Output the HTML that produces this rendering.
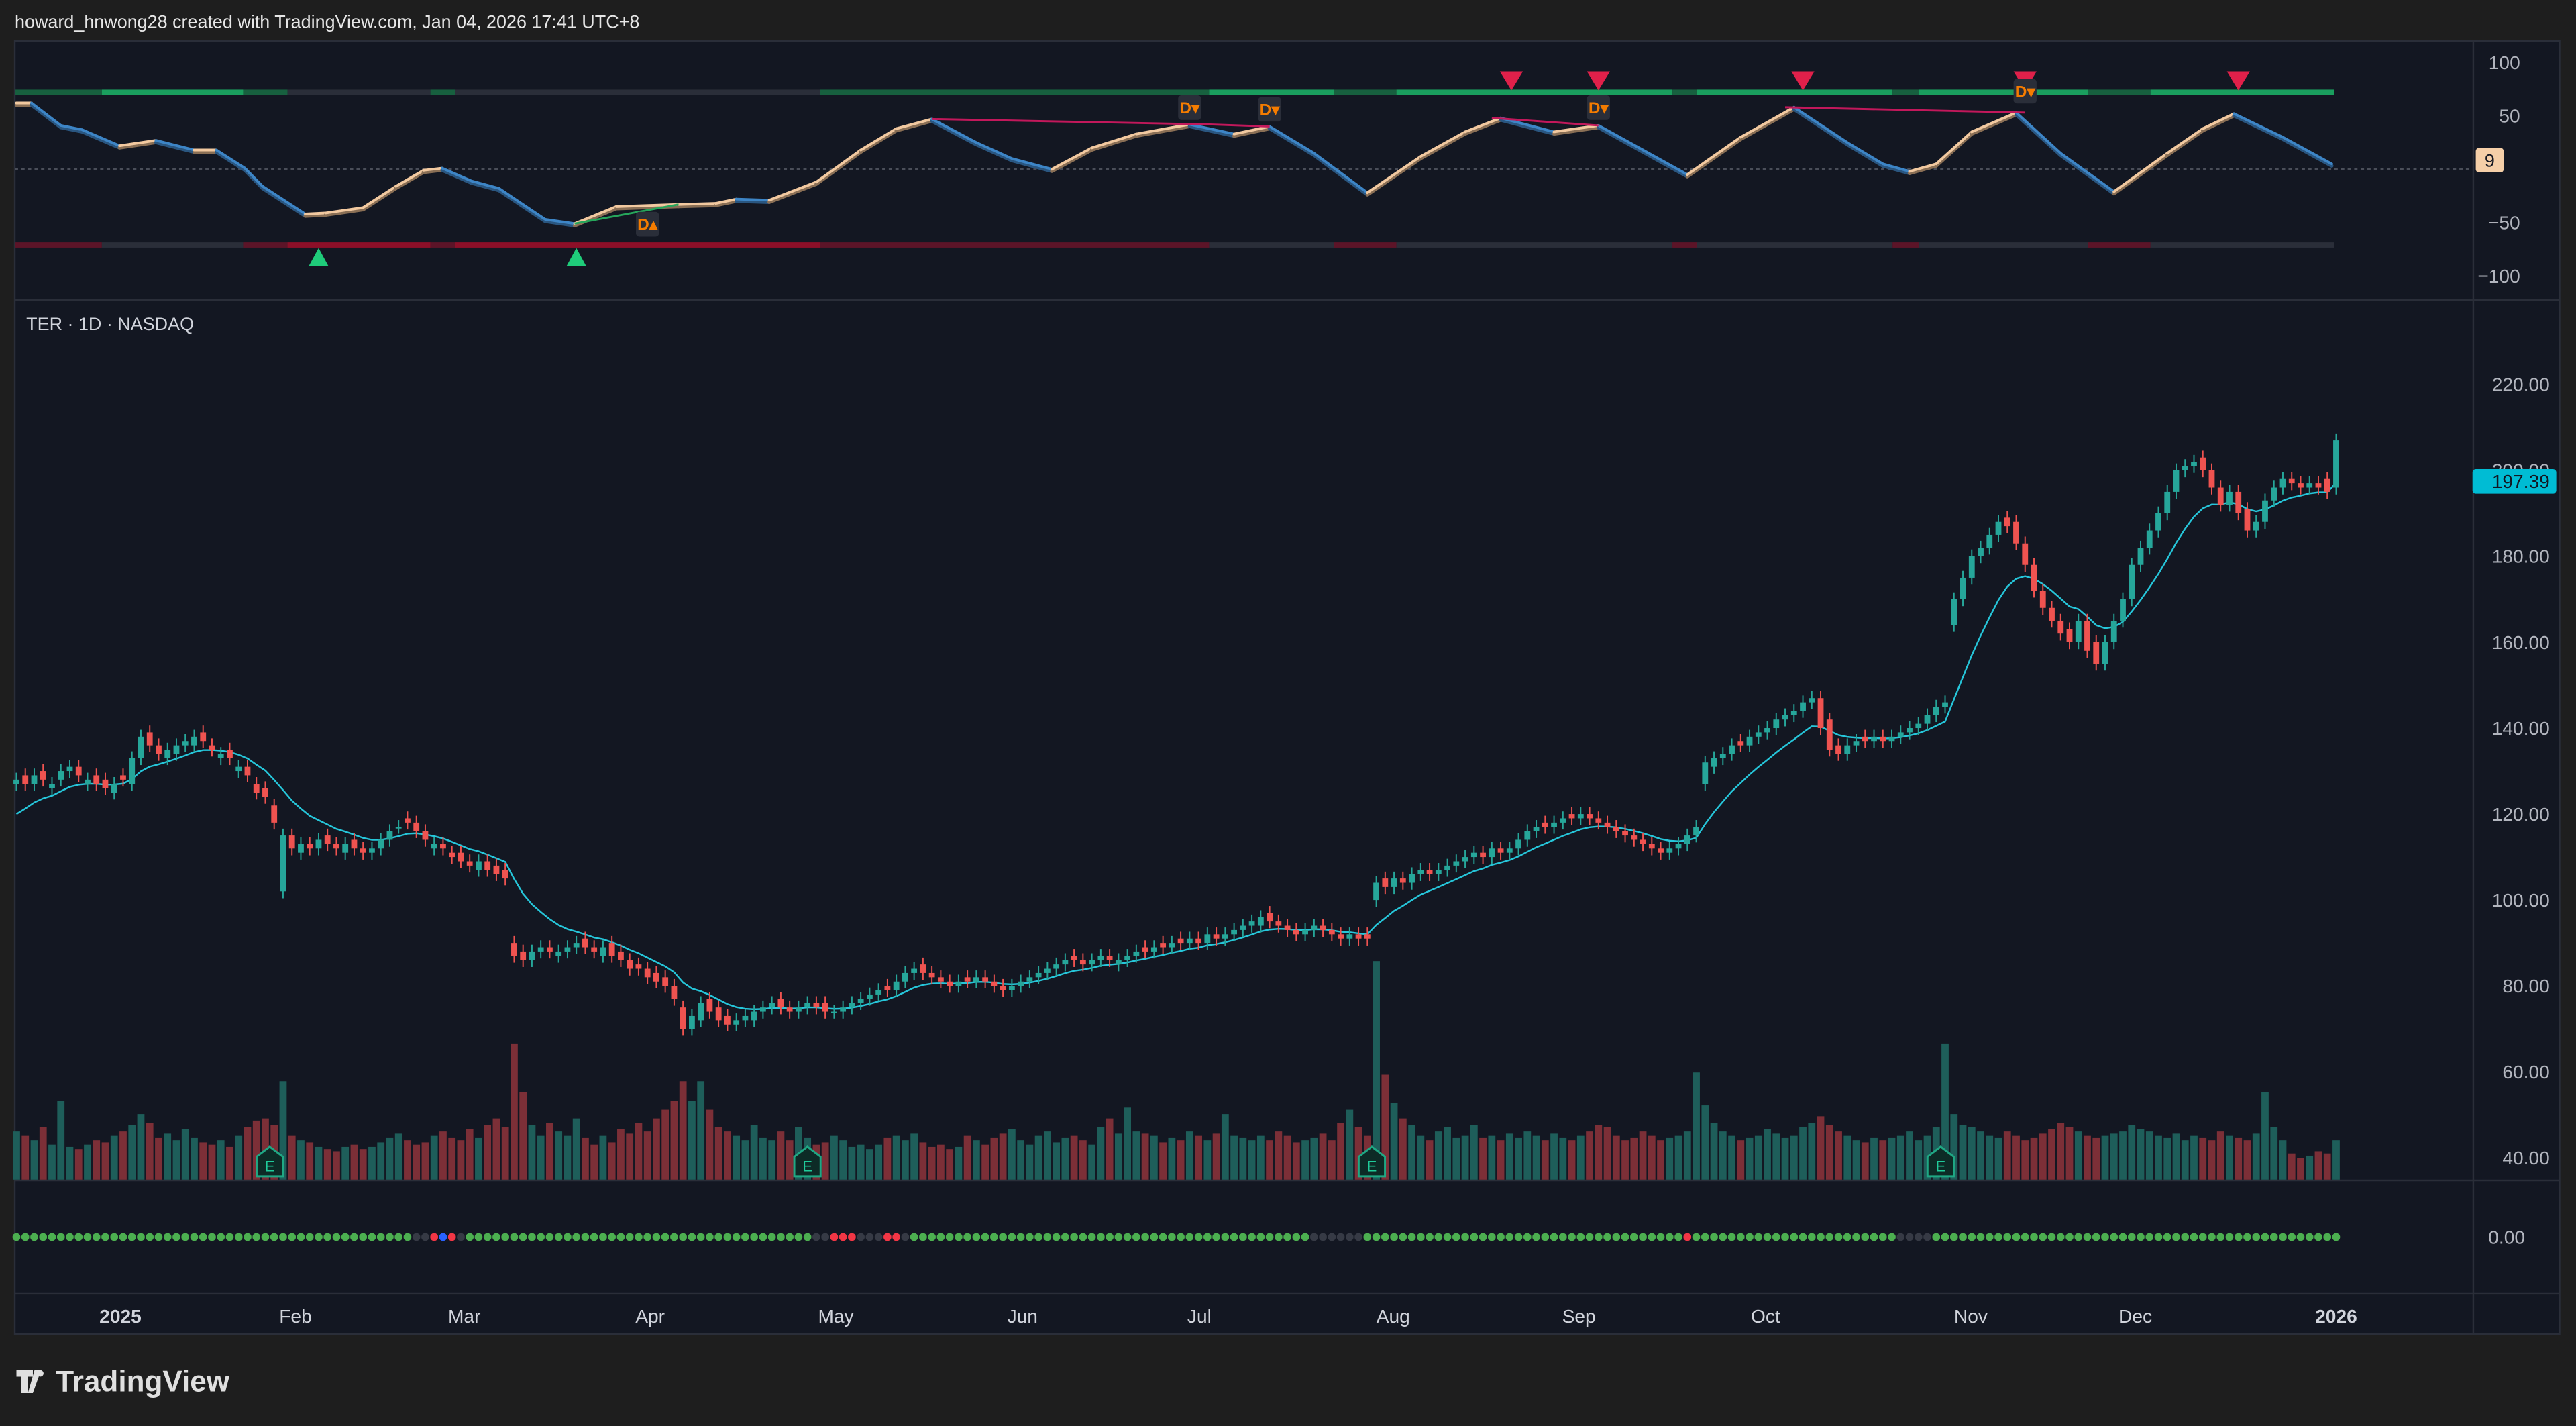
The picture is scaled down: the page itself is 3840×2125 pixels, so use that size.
<!DOCTYPE html>
<html><head><meta charset="utf-8"><style>
html,body{margin:0;padding:0;background:#1e1e1e;}
svg{display:block;font-family:"Liberation Sans",sans-serif;}
</style></head><body>
<svg id="c" width="3840" height="2125" viewBox="0 0 1568 868" preserveAspectRatio="none" xmlns="http://www.w3.org/2000/svg">
<rect x="0" y="0" width="1568" height="868" fill="#1e1e1e"/>
<text x="9" y="17" font-size="11" fill="#e6e6e6">howard_hnwong28 created with TradingView.com, Jan 04, 2026 17:41 UTC+8</text>
<rect x="9" y="25" width="1549" height="787" fill="#131722" stroke="#2a2e39" stroke-width="1"/>
<line x1="9" y1="182.5" x2="1558" y2="182.5" stroke="#2a2e39"/>
<line x1="9" y1="718.5" x2="1558" y2="718.5" stroke="#2a2e39"/>
<line x1="9" y1="787.5" x2="1558" y2="787.5" stroke="#2a2e39"/>
<line x1="1505.5" y1="25" x2="1505.5" y2="812" stroke="#2a2e39"/>
<line x1="9" y1="103" x2="1505" y2="103" stroke="#4a4e59" stroke-dasharray="2,2"/>
<text x="16" y="201" font-size="11" fill="#d1d4dc">TER · 1D · NASDAQ</text>
<g id="g"></g>
<g>
<path d="M10 834h10v4h-3v10h-4v-10h-3z M21 834h4l-5 14h-3z" fill="#e0e0e0"/>
<circle cx="24.5" cy="836" r="2" fill="#e0e0e0"/>
<text x="34" y="847" font-size="18" font-weight="bold" fill="#e0e0e0">TradingView</text>
</g>
</svg>
<script>
const closes=[128,127,129,128,127,130,131,129,128,127,
126,127,128,133,138,136,134,135,136,137,
138,137,135,134,133,131,129,125,124,118,
115,112,113,112,114,113,112,113,112,111,
112,114,116,117,118,116,114,113,112,110,
109,108,109,107,106,105,87,86,88,89,
88,88,89,90,89,88,89,87,86,84,
84,82,81,80,77,70,73,76,74,72,
71,72,73,74,75,76,75,74,75,76,
75,74,74,75,76,77,78,79,79,81,
83,84,83,82,81,80,81,81,82,81,
80,79,80,81,82,83,84,85,86,86,
85,86,87,86,86,87,88,88,89,89,
90,90,91,90,92,91,92,93,94,95,
96,95,94,93,92,93,94,93,92,91,
92,91,91,104,103,105,104,106,107,106,
107,108,109,110,111,110,112,111,112,114,
116,117,117,118,119,119,120,119,118,117,
116,115,114,113,112,111,112,113,115,117,
132,133,134,136,136,138,139,140,142,143,
144,146,147,140,135,134,136,137,137,138,
137,138,139,140,141,143,145,146,170,175,
180,182,185,188,187,183,178,172,168,165,
162,160,165,158,155,160,165,170,178,182,
186,190,195,200,201,202,200,196,192,195,
190,186,188,193,196,198,197,196,197,196,
195,207];
const opens=[127,129,127,130,126,128,130,131,127,129,
128,125,129,127,133,139,136,133,134,136,
136,139,136,133,135,130,131,127,126,122,
102,115,111,113,112,115,113,111,114,112,
111,112,114,117,119,118,116,112,113,111,
111,109,107,109,108,107,90,88,86,88,
89,87,88,89,91,89,87,90,88,86,
85,84,83,82,80,75,70,72,77,75,
73,71,72,72,74,75,77,75,74,75,
76,76,74,74,75,76,77,78,80,79,
81,83,85,83,82,81,80,82,81,82,
81,80,79,80,81,82,83,84,85,87,
86,85,86,87,85,86,87,89,88,90,
89,91,90,91,90,92,91,92,93,94,
94,97,95,94,93,92,93,94,93,92,
91,92,92,100,105,103,105,104,106,107,
106,107,108,109,110,111,110,112,111,112,
114,116,118,117,118,120,119,120,119,118,
117,116,115,114,113,112,111,112,113,115,
127,131,133,134,137,136,138,139,140,142,
143,144,146,147,142,136,134,136,138,137,
138,137,138,139,140,141,143,145,164,170,
175,180,182,185,189,188,183,178,172,168,
165,163,160,165,160,155,160,165,170,178,
182,186,190,195,200,201,203,200,196,192,
195,191,186,188,193,196,198,197,196,197,
198,196];
const volumes=[2.2,2.0,1.8,2.4,1.6,3.6,1.5,1.4,1.6,1.8,
1.7,2.0,2.2,2.5,3.0,2.6,1.9,2.1,1.8,2.3,
1.9,1.7,1.6,1.8,1.5,2.0,2.4,2.7,2.8,2.5,
4.5,2.0,1.8,1.7,1.5,1.4,1.3,1.5,1.6,1.4,
1.5,1.7,1.9,2.1,1.8,1.6,1.7,2.0,2.2,1.9,
1.8,2.3,1.9,2.5,2.8,2.4,6.2,4.0,2.5,2.0,
2.6,2.2,2.0,2.8,1.9,1.6,2.0,1.7,2.3,2.1,
2.6,2.2,2.8,3.2,3.6,4.5,3.6,4.5,3.2,2.4,
2.2,2.0,1.8,2.5,1.9,1.8,2.2,1.8,2.4,1.9,
1.6,1.7,2.0,1.8,1.5,1.6,1.4,1.6,1.9,2.0,
1.8,2.1,1.7,1.5,1.6,1.4,1.5,2.0,1.8,1.6,
1.9,2.1,2.3,1.8,1.6,2.0,2.2,1.7,1.9,2.0,
1.8,1.6,2.4,2.8,2.1,3.3,2.2,2.1,2.0,1.7,
1.9,1.8,2.2,2.0,1.8,2.1,3.0,2.0,1.9,1.8,
2.0,1.8,2.2,2.0,1.7,1.8,1.9,2.1,1.8,2.6,
3.2,2.4,2.0,10.0,4.8,3.5,2.8,2.5,2.0,1.8,
2.2,2.4,1.9,2.0,2.5,1.9,2.0,1.8,2.1,1.9,
2.2,2.0,1.8,2.1,1.9,1.8,2.0,2.2,2.5,2.4,
2.0,1.8,1.9,2.2,2.0,1.8,1.9,2.0,2.2,4.9,
3.4,2.6,2.2,2.0,1.8,1.9,2.0,2.3,2.1,1.9,
2.0,2.4,2.6,2.9,2.5,2.2,2.0,1.8,1.7,1.9,
1.8,1.9,2.0,2.2,1.8,2.0,2.4,6.2,3.0,2.5,
2.4,2.2,2.0,1.9,2.2,2.0,1.8,1.9,2.1,2.3,
2.6,2.4,2.2,2.0,1.9,2.0,2.1,2.2,2.5,2.3,
2.2,2.0,1.9,2.1,1.8,2.0,1.9,1.8,2.2,2.0,
1.9,1.8,2.1,4.0,2.4,1.8,1.2,1.0,1.1,1.3,
1.2,1.8];
const oscIdx=[0,1.7,5,7.4,11.6,15.7,20,22.5,25.7,27.7,32.5,34.8,39,42.7,45.8,47.9,51.2,54.3,59.5,62.8,67.5,74.5,78.7,81,84.7,90,95,99,103,108,112,116.5,121,126,132,137,141,146,152,158,163,167,173,178,183,188,194,200,206,210,213,216,220,225,230,236,242,246,249.5,255,260.5];
const oscVal=[62,62,41,37,22,27,18,18,1,-16,-42,-41,-36,-16,-1,1,-11,-18,-47,-51,-35,-33,-32,-28,-29,-12,18,38,47,25,10,0,20,33,42,33,40,15,-22,12,35,48,35,41,18,-5,30,58,25,5,-2,5,35,53,15,-21,15,38,52,30,5];
const timeLabels=["2025","Feb","Mar","Apr","May","Jun","Jul","Aug","Sep","Oct","Nov","Dec","2026"];
const timeLabelIdx=[11.7,31.4,50.4,71.3,92.2,113.2,133.1,154.9,175.8,196.8,219.9,238.4,261];
const priceTicks=[220,200,180,160,140,120,100,80,60,40];
const oscTicks=[100,50,-50,-100];
const dotState=["g",0,45,"n",45,47,"r",47,48,"b",48,49,"r",49,50,"n",50,51,"g",51,90,"n",90,92,"r",92,95,"n",95,98,"r",98,100,"n",100,101,"g",101,146,"n",146,152,"g",152,188,"r",188,189,"g",189,212,"n",212,216,"g",216,262];
const upMarks=[34,63];const downMarks=[168.2,178,201,226,250];
const divIdx=[132,141,178,226];
const divLines=[[103,47,134,42,"#c2185b"],[134,42,141,40,"#c2185b"],[166,48,178,41,"#c2185b"],[199,58,226,53,"#c2185b"],[62.8,-51,74.5,-33,"#26a65b"]];
// band segments: [startX(display), endX, colorKey]
const topBand=[[9,62,"d"],[62,148,"b"],[148,175,"d"],[175,262,"n"],[262,277,"d"],[277,499,"n"],[499,736,"d"],[736,812,"b"],[812,850,"d"],[850,1018,"b"],[1018,1033,"d"],[1033,1152,"b"],[1152,1168,"d"],[1168,1271,"b"],[1271,1309,"d"],[1309,1421,"b"]];
const botBand=[[9,62,"d"],[62,148,"n"],[148,175,"d"],[175,262,"b"],[262,277,"d"],[277,499,"b"],[499,736,"d"],[736,812,"n"],[812,850,"d"],[850,1018,"n"],[1018,1033,"d"],[1033,1152,"n"],[1152,1168,"d"],[1168,1271,"n"],[1271,1309,"d"],[1309,1421,"n"]];

const NS="http://www.w3.org/2000/svg";const g=document.getElementById('g');
const X=i=>10+i*5.41;
const PY=p=>234+(220-p)*2.615;
const OY=v=>103-v*0.65;
const VY=v=>718-v*13.3;
function mk(t,a,parent){const e=document.createElementNS(NS,t);for(const k in a)e.setAttribute(k,a[k]);(parent||g).appendChild(e);return e;}
const UP="#26a69a",DN="#ef5350";

for(const s of topBand){const r=mk('rect',{x:s[0],y:54.5,width:s[1]-s[0],height:3.2,fill:{d:"#17603f",b:"#1a9e5e",n:"#2a2e39"}[s[2]]});

}
for(const s of botBand){const r=mk('rect',{x:s[0],y:147.5,width:s[1]-s[0],height:3.2,fill:{d:"#5c1428",b:"#8c0f28",n:"#2a2e39"}[s[2]]});

}

// oscillator
for(let k=0;k<oscIdx.length-1;k++){const up=oscVal[k+1]>=oscVal[k];
const sh=mk('line',{x1:X(oscIdx[k]),y1:OY(oscVal[k])+1.2,x2:X(oscIdx[k+1]),y2:OY(oscVal[k+1])+1.2,stroke:up?"#8a6f55":"#2a5680",'stroke-width':2.2,'stroke-linecap':'round'});


const s=mk('line',{x1:X(oscIdx[k]),y1:OY(oscVal[k]),x2:X(oscIdx[k+1]),y2:OY(oscVal[k+1]),stroke:up?"#f2c9a0":"#3d85c6",'stroke-width':1.6,'stroke-linecap':'round'});

}
for(const d of divLines){const l=mk('line',{x1:X(d[0]),y1:OY(d[1]),x2:X(d[2]),y2:OY(d[3]),stroke:d[4],'stroke-width':1.2});

}
for(const i of upMarks){const t=mk('polygon',{points:`${X(i)-6},162 ${X(i)+6},162 ${X(i)},151`,fill:"#1fcc7a"});

}
for(const i of downMarks){const t=mk('polygon',{points:`${X(i)-7},43.5 ${X(i)+7},43.5 ${X(i)},55`,fill:"#e0204a"});

}
for(const i of divIdx){const yy=i==226?48:(i==141?59:58);const r=mk('rect',{x:X(i)-7,y:yy,width:14,height:15,rx:2,fill:"#2a2e39"});


const t=mk('text',{x:X(i),y:yy+11,'font-size':10,'font-weight':'bold','text-anchor':'middle',fill:"#f57c00"});t.textContent="D▾";

}
{const i=71;const r=mk('rect',{x:X(i)-7,y:129,width:14,height:15,rx:2,fill:"#2a2e39"});


const t=mk('text',{x:X(i),y:140,'font-size':10,'font-weight':'bold','text-anchor':'middle',fill:"#f57c00"});t.textContent="D▴";

}

// volume
for(let i=0;i<closes.length;i++){const up=closes[i]>=opens[i];const r=mk('rect',{x:X(i)-2.2,y:VY(volumes[i]),width:4.4,height:718-VY(volumes[i]),fill:up?"#1e5e5a":"#7c2f37"});

}
for(const i of [28.5,89,152.5,216.5]){const e=mk('path',{d:`M${X(i)-8},716 v-12 l8,-6 l8,6 v12 z`,fill:"#0d2b26",stroke:"#1fa884",'stroke-width':1.2});


const t=mk('text',{x:X(i),y:713,'font-size':9,'text-anchor':'middle',fill:"#1fcc9a"});t.textContent="E";

}

// moving average
let ema=[],k=2/11;closes.forEach((c,i)=>ema.push(i?ema[i-1]+k*(c-ema[i-1]):c-8));
const ml=mk('polyline',{points:ema.map((v,i)=>X(i)+","+PY(v)).join(" "),fill:"none",stroke:"#26c6da",'stroke-width':1});



// candles
for(let i=0;i<closes.length;i++){const c=closes[i],o=opens[i];const up=c>=o;const col=up?UP:DN;
const hi=Math.max(o,c)+1.6,lo=Math.min(o,c)-1.6;
const w=mk('line',{x1:X(i),x2:X(i),y1:PY(hi),y2:PY(lo),stroke:col,'stroke-width':0.8});


const b=mk('rect',{x:X(i)-1.8,y:PY(Math.max(o,c)),width:3.6,height:Math.max(1,Math.abs(PY(o)-PY(c))),fill:col});

}

// dots
for(let s=0;s<dotState.length;s+=3){const col={g:"#4caf50",n:"#363a45",r:"#f23645",b:"#2962ff"}[dotState[s]];for(let i=dotState[s+1];i<dotState[s+2];i++){const d=mk('circle',{cx:X(i),cy:753,r:2.4,fill:col});

}}

// axes
for(const p of priceTicks){const t=mk('text',{x:1552,y:PY(p)+4,'font-size':11.5,'text-anchor':'end',fill:"#b2b5be"});t.textContent=p.toFixed(2);

}
for(const v of oscTicks){const t=mk('text',{x:1534,y:OY(v)+4,'font-size':11.5,'text-anchor':'end',fill:"#b2b5be"});t.textContent=v<0?"−"+(-v):v;

}
const zt=mk('text',{x:1537,y:757,'font-size':11.5,'text-anchor':'end',fill:"#b2b5be"});zt.textContent="0.00";


timeLabels.forEach((s,j)=>{const t=mk('text',{x:X(timeLabelIdx[j]),y:805,'font-size':11.5,'text-anchor':'middle',fill:"#d1d4dc",'font-weight':(s.length==4?'bold':'normal')});t.textContent=s;

});
const pb=mk('rect',{x:1505,y:285.5,width:51,height:15,rx:2,fill:"#00bcd4"});


const pt=mk('text',{x:1552,y:297,'font-size':11.5,'text-anchor':'end',fill:"#131722"});pt.textContent="197.39";


const ob=mk('rect',{x:1507,y:90,width:17,height:15,rx:2,fill:"#f5cfa8"});


const ot=mk('text',{x:1515.5,y:101.5,'font-size':11,'text-anchor':'middle',fill:"#131722"});ot.textContent="9";


</script>
</body></html>
